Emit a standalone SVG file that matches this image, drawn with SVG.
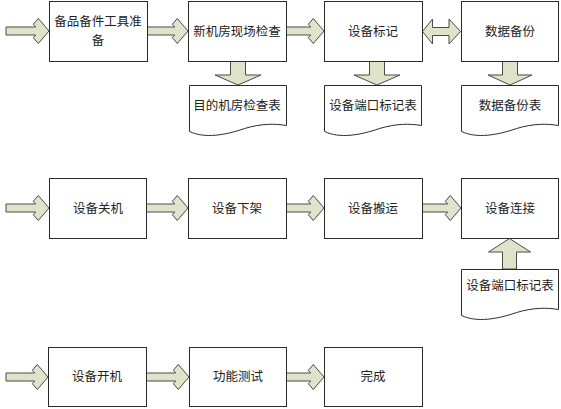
<svg xmlns="http://www.w3.org/2000/svg" xmlns:xlink="http://www.w3.org/1999/xlink" width="561" height="409" viewBox="0 0 561 409">
<style>
.box{fill:#ffffff;stroke:#2b2b2b;stroke-width:1}
.doc{fill:#ffffff;stroke:#2b2b2b;stroke-width:1}
.arr{fill:#dfe3c9;stroke:#4a4a4a;stroke-width:1;stroke-linejoin:miter}
text{font-family:"Noto Sans CJK SC","Noto Sans",sans-serif;font-size:12.5px;fill:#222;text-anchor:middle}
</style>
<defs>
<path id="docshape" d="M0,0 H97 V40 C85,38 72,38 55,43 C35,50 15,53 0,46 Z"/>
</defs>
<rect width="561" height="409" fill="#ffffff"/>
<g id="connectors">
<polygon class="arr" transform="translate(49,31)" points="-43,-4 -13.3,-4 -15.7,-6.7 -10.7,-12.5 0,0 -10.7,12.5 -15.7,6.7 -13.3,4 -43,4"/>
<polygon class="arr" transform="translate(188,31)" points="-40.5,-4 -13.3,-4 -15.7,-6.7 -10.7,-12.5 0,0 -10.7,12.5 -15.7,6.7 -13.3,4 -40.5,4"/>
<polygon class="arr" transform="translate(324,31)" points="-37.5,-4 -13.3,-4 -15.7,-6.7 -10.7,-12.5 0,0 -10.7,12.5 -15.7,6.7 -13.3,4 -37.5,4"/>
<polygon class="arr" points="422.5,31.5 432.5,19 432.5,27.5 449,27.5 449,19 460.5,31.5 449,44 449,35.5 432.5,35.5 432.5,44"/>
<polygon class="arr" transform="translate(238,85)" points="-7.5,-23.5 7.5,-23.5 7.5,-10 23,-10 0,0 -23,-10 -7.5,-10"/>
<polygon class="arr" transform="translate(377,85)" points="-7.5,-23.5 7.5,-23.5 7.5,-10 23,-10 0,0 -23,-10 -7.5,-10"/>
<polygon class="arr" transform="translate(510,85)" points="-7.5,-23.5 7.5,-23.5 7.5,-10 22,-10 0,0 -22,-10 -7.5,-10"/>
<polygon class="arr" transform="translate(49,208)" points="-43,-4 -13.3,-4 -15.7,-6.7 -10.7,-12.5 0,0 -10.7,12.5 -15.7,6.7 -13.3,4 -43,4"/>
<polygon class="arr" transform="translate(188,208)" points="-41.5,-4 -13.3,-4 -15.7,-6.7 -10.7,-12.5 0,0 -10.7,12.5 -15.7,6.7 -13.3,4 -41.5,4"/>
<polygon class="arr" transform="translate(324,208)" points="-37.5,-4 -13.3,-4 -15.7,-6.7 -10.7,-12.5 0,0 -10.7,12.5 -15.7,6.7 -13.3,4 -37.5,4"/>
<polygon class="arr" transform="translate(461,208)" points="-38.5,-4 -13.3,-4 -15.7,-6.7 -10.7,-12.5 0,0 -10.7,12.5 -15.7,6.7 -13.3,4 -38.5,4"/>
<polygon class="arr" transform="translate(509.5,238.5)" points="0,0 21,13.5 7,13.5 7,30.5 -7,30.5 -7,13.5 -21,13.5"/>
<polygon class="arr" transform="translate(48,377)" points="-42,-4 -13.3,-4 -15.7,-6.7 -10.7,-12.5 0,0 -10.7,12.5 -15.7,6.7 -13.3,4 -42,4"/>
<polygon class="arr" transform="translate(189,377)" points="-42.5,-4 -13.3,-4 -15.7,-6.7 -10.7,-12.5 0,0 -10.7,12.5 -15.7,6.7 -13.3,4 -42.5,4"/>
<polygon class="arr" transform="translate(324,377)" points="-37.5,-4 -13.3,-4 -15.7,-6.7 -10.7,-12.5 0,0 -10.7,12.5 -15.7,6.7 -13.3,4 -37.5,4"/>
</g>
<g id="n1"><rect class="box" x="49.5" y="1.5" width="98" height="60"/><text x="98" y="25.5">备品备件工具准</text><text x="98" y="44.5">备</text></g>
<g id="n2"><rect class="box" x="188.5" y="1.5" width="98" height="60"/><text x="237" y="35.5">新机房现场检查</text></g>
<g id="n3"><rect class="box" x="324.5" y="1.5" width="98" height="60"/><text x="373" y="35.5">设备标记</text></g>
<g id="n4"><rect class="box" x="461.5" y="1.5" width="97" height="60"/><text x="510" y="35.5">数据备份</text></g>
<g id="d1"><use href="#docshape" class="doc" x="189.5" y="85.5"/><text x="237" y="109.5">目的机房检查表</text></g>
<g id="d2"><use href="#docshape" class="doc" x="324.5" y="85.5"/><text x="373" y="109.5">设备端口标记表</text></g>
<g id="d3"><use href="#docshape" class="doc" x="461.5" y="85.5"/><text x="510" y="109.5">数据备份表</text></g>
<g id="n5"><rect class="box" x="49.5" y="178.5" width="97" height="60"/><text x="98" y="212.5">设备关机</text></g>
<g id="n6"><rect class="box" x="188.5" y="178.5" width="98" height="60"/><text x="237" y="212.5">设备下架</text></g>
<g id="n7"><rect class="box" x="324.5" y="178.5" width="98" height="60"/><text x="373" y="212.5">设备搬运</text></g>
<g id="n8"><rect class="box" x="461.5" y="178.5" width="97" height="60"/><text x="510" y="212.5">设备连接</text></g>
<g id="d4"><use href="#docshape" class="doc" x="461.5" y="269.5"/><text x="510" y="289.5">设备端口标记表</text></g>
<g id="n9"><rect class="box" x="48.5" y="347.5" width="98" height="59"/><text x="97" y="381">设备开机</text></g>
<g id="n10"><rect class="box" x="189.5" y="347.5" width="97" height="59"/><text x="238" y="381">功能测试</text></g>
<g id="n11"><rect class="box" x="324.5" y="347.5" width="98" height="59"/><text x="373" y="381">完成</text></g>
</svg>
